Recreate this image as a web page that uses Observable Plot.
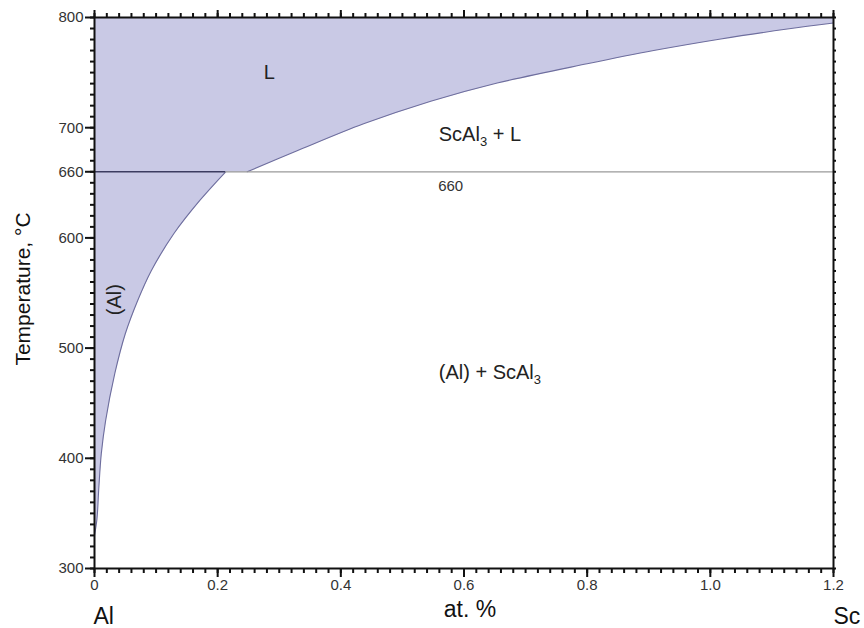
<!DOCTYPE html>
<html><head><meta charset="utf-8">
<script src="https://cdn.jsdelivr.net/npm/d3@7"></script>
<script src="https://cdn.jsdelivr.net/npm/@observablehq/plot@0.6"></script>
<style>
body{margin:0;background:#fff;}
svg{font-family: Arial, "Liberation Sans", sans-serif;}
</style>
</head><body><div id="chart"></div>
<script>
// Solvus of (Al): composition (at. % Sc) vs temperature (°C)
const solvusX = [0, 0.004, 0.007, 0.011, 0.018, 0.033, 0.050, 0.070, 0.092, 0.129, 0.171, 0.213];
const solvusT = [330, 345, 373, 404, 434, 477, 513, 543, 570, 604, 634, 660];
// Liquidus (L / ScAl3 + L)
const liquidusX = [0.248, 0.329, 0.437, 0.546, 0.654, 0.800, 0.908, 1.017, 1.125, 1.2];
const liquidusT = [660, 679, 703.5, 724, 740.5, 758, 770, 780.5, 789.5, 795];
const eutecticT = 660;
const xDomain = [0, 1.2];
const yDomain = [300, 800];
const xMajor = [0, 0.2, 0.4, 0.6, 0.8, 1.0, 1.2];
const yMajor = [300, 400, 500, 600, 660, 700, 800];
const xMinor = d3.range(0, 1.2001, 0.02);
const yMinor = d3.range(300, 801, 10);
const regionNames = ["L", "ScAl3 + L", "(Al) + ScAl3", "(Al)"];
const eutecticLabel = "660";
const endLabels = ["Al", "Sc"];
const xTitle = "at. %";
const yTitle = "Temperature, °C";

const W = 864, H = 628, mL = 94, mR = 31, mT = 17, mB = 60;
const solvus = solvusX.map((x, i) => ({x, T: solvusT[i]}));
const liquidus = liquidusX.map((x, i) => ({x, T: liquidusT[i]}));
const polygon = [...solvus, ...liquidus, {x: xDomain[1], T: yDomain[1]}, {x: xDomain[0], T: yDomain[1]}];

// tick lengths expressed in data units (pixel length × units per pixel)
const yPerPx = (yDomain[1] - yDomain[0]) / (H - mT - mB);
const xPerPx = (xDomain[1] - xDomain[0]) / (W - mL - mR);

const fmtX = d => d === 0 ? "0" : d.toFixed(1);
const ink = "#111";
const tw = 2;

const plot = Plot.plot({
  width: W,
  height: H,
  marginLeft: mL,
  marginRight: mR,
  marginTop: mT,
  marginBottom: mB,
  x: {domain: xDomain, axis: null},
  y: {domain: yDomain, axis: null},
  style: {fontFamily: "Arial, 'Liberation Sans', sans-serif", background: "#fff"},
  marks: [
    Plot.line(polygon, {x: "x", y: "T", fill: "#c9c9e5", stroke: "none", curve: "linear"}),
    Plot.line(solvus, {x: "x", y: "T", stroke: "#6e6e9e", strokeWidth: 1.1, curve: "catmull-rom"}),
    Plot.line(liquidus, {x: "x", y: "T", stroke: "#6e6e9e", strokeWidth: 1.1, curve: "catmull-rom"}),
    Plot.ruleY([eutecticT], {x1: 0, x2: solvusX[solvusX.length - 1], stroke: "#3c3c60", strokeWidth: 1.4}),
    Plot.ruleY([eutecticT], {x1: solvusX[solvusX.length - 1], x2: xDomain[1], stroke: "#9a9a9a", strokeWidth: 1.2}),
    // tick marks
    Plot.ruleX(xMinor, {y1: yDomain[0], y2: yDomain[0] - 5 * yPerPx, stroke: ink, strokeWidth: tw}),
    Plot.ruleX(xMajor, {y1: yDomain[0], y2: yDomain[0] - 9 * yPerPx, stroke: ink, strokeWidth: tw}),
    Plot.ruleX(xMinor, {y1: yDomain[1], y2: yDomain[1] + 4 * yPerPx, stroke: ink, strokeWidth: tw}),
    Plot.ruleX(xMajor, {y1: yDomain[1], y2: yDomain[1] + 7 * yPerPx, stroke: ink, strokeWidth: tw}),
    Plot.ruleY(yMinor, {x1: xDomain[0], x2: xDomain[0] - 4 * xPerPx, stroke: ink, strokeWidth: tw}),
    Plot.ruleY(yMajor, {x1: xDomain[0], x2: xDomain[0] - 9 * xPerPx, stroke: ink, strokeWidth: tw}),
    Plot.ruleY(yMinor, {x1: xDomain[1], x2: xDomain[1] + 3 * xPerPx, stroke: ink, strokeWidth: tw}),
    // tick labels
    Plot.axisX({anchor: "bottom", ticks: xMajor, tickSize: 0, tickPadding: 11, tickFormat: fmtX, label: null, fontSize: 15, fill: "#333"}),
    Plot.axisY({anchor: "left", ticks: yMajor, tickSize: 0, tickPadding: 11, tickFormat: d => String(d), label: null, fontSize: 15, fill: "#333"}),
    Plot.frame({stroke: ink, strokeWidth: 2}),
    // region labels
    Plot.text([regionNames[0]], {x: 0.284, y: 749.6, text: d => d, fontSize: 20, fill: "#222", textAnchor: "middle"}),
    Plot.text([regionNames[1]], {x: 0.559, y: 693.8, text: d => d, fontSize: 20, fill: "#222", textAnchor: "start"}),
    Plot.text([regionNames[2]], {x: 0.559, y: 477.9, text: d => d, fontSize: 20, fill: "#222", textAnchor: "start"}),
    Plot.text([regionNames[3]], {x: 0.0325, y: 544, text: d => d, fontSize: 20, fill: "#222", rotate: -90, textAnchor: "middle"}),
    Plot.text([eutecticLabel], {x: 0.558, y: 646.6, text: d => d, fontSize: 15, fill: "#333", textAnchor: "start"}),
    // bottom labels
    Plot.text([endLabels[0]], {x: 0, y: 300, text: d => d, fontSize: 23, fill: ink, textAnchor: "start", dx: -1, dy: 48}),
    Plot.text([endLabels[1]], {x: 1.2, y: 300, text: d => d, fontSize: 23, fill: ink, textAnchor: "start", dx: 0, dy: 48}),
    Plot.text([xTitle], {frameAnchor: "bottom", text: d => d, fontSize: 23, fill: ink, textAnchor: "middle", dx: 6, dy: 48}),
    Plot.text([yTitle], {frameAnchor: "left", text: d => d, fontSize: 21, fill: ink, rotate: -90, textAnchor: "middle", dx: -71, dy: -4})
  ]
});

// subscript the "3" in ScAl3
d3.select(plot).selectAll("text").each(function() {
  const el = this;
  const t = el.textContent;
  if (el.children.length === 0 && t.includes("ScAl3")) {
    const i = t.indexOf("ScAl3");
    const before = t.slice(0, i + 4), after = t.slice(i + 5);
    el.textContent = "";
    const s = d3.select(el);
    s.append("tspan").text(before);
    s.append("tspan").attr("font-size", 13).attr("dy", 5).text("3");
    if (after) s.append("tspan").attr("dy", -5).text(after);
  }
});

document.getElementById("chart").appendChild(plot);
</script>
</body></html>
